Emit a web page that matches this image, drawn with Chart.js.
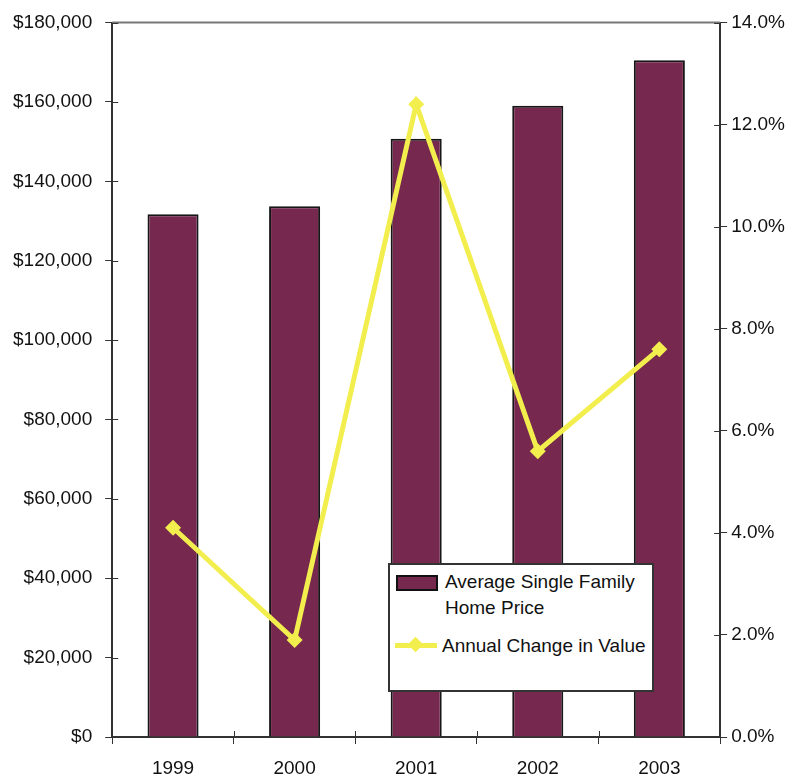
<!DOCTYPE html>
<html>
<head>
<meta charset="utf-8">
<script src="https://cdn.jsdelivr.net/npm/chart.js@4/dist/chart.umd.min.js"></script>
<style>
  html, body { margin: 0; padding: 0; background: #fff; }
  #wrap { position: relative; width: 792px; height: 784px; }
  #legend {
    position: absolute; left: 388px; top: 563px; width: 266px; height: 129px;
    background: #fff; border: 2px solid #333; box-sizing: border-box;
    font-family: "Liberation Sans", Arial, sans-serif; font-size: 19px; color: #111;
  }
  .row { position: absolute; left: 0; display: flex; align-items: flex-start; }
  .swatch-bar { width: 38px; height: 12px; background: #77284f; border: 2px solid #111; margin: 6px 7px 0 6px; }
  .swatch-line { position: relative; width: 42px; height: 22px; margin: 0 5px 0 5px; }
  .swatch-line .seg { position: absolute; left: 0; right: 0; top: 8px; height: 5px; background: #f2ee4e; }
  .swatch-line .dot { position: absolute; left: 15px; top: 4px; width: 11px; height: 11px; background: #f2ee4e; transform: rotate(45deg); }
  .txt { line-height: 26px; }
</style>
</head>
<body>
<div id="wrap">
  <canvas id="homeChart" width="792" height="784"></canvas>
  <div id="legend">
    <div class="row" style="top:4px"><div class="swatch-bar"></div><div class="txt">Average Single Family<br>Home Price</div></div>
    <div class="row" style="top:70px"><div class="swatch-line"><div class="seg"></div><div class="dot"></div></div><div class="txt" style="line-height:22px">Annual Change in Value</div></div>
  </div>
</div>
<script>
// -------------------------------
// Data
// -------------------------------
const years = ['1999', '2000', '2001', '2002', '2003'];
const avgPrice = [131700, 133700, 150700, 159000, 170500];
const annualChange = [4.1, 1.9, 12.4, 5.6, 7.6];

const priceTicks = [0, 20000, 40000, 60000, 80000, 100000, 120000, 140000, 160000, 180000];
const changeTicks = [0, 2, 4, 6, 8, 10, 12, 14];

const axisFont = { family: '"Liberation Sans", Arial, sans-serif', size: 19, lineHeight: 1 };

// top edge of the plot frame + inner half of the cross ticks
const frame = {
    id: 'frame',
    afterDraw(chart) {
        const { ctx, chartArea, scales } = chart;
        const inner = 6;
        ctx.save();
        ctx.strokeStyle = '#777';
        ctx.lineWidth = 2;
        ctx.beginPath();
        ctx.moveTo(chartArea.left, chartArea.top);
        ctx.lineTo(chartArea.right, chartArea.top);
        ctx.stroke();

        ctx.strokeStyle = '#333';
        ctx.lineWidth = 1;
        ctx.beginPath();
        priceTicks.forEach(v => {
            const y = Math.round(scales.yPrice.getPixelForValue(v)) + 0.5;
            ctx.moveTo(chartArea.left, y);
            ctx.lineTo(chartArea.left + inner, y);
        });
        changeTicks.forEach(v => {
            const y = Math.round(scales.yPct.getPixelForValue(v)) + 0.5;
            ctx.moveTo(chartArea.right, y);
            ctx.lineTo(chartArea.right - inner, y);
        });
        for (let i = 0; i <= years.length; i++) {
            const x = Math.round(scales.x.getPixelForValue(i - 0.5)) + 0.5;
            ctx.moveTo(x, chartArea.bottom);
            ctx.lineTo(x, chartArea.bottom - inner);
        }
        ctx.stroke();
        ctx.restore();
    }
};

const ctx = document.getElementById('homeChart').getContext('2d');
new Chart(ctx, {
    type: 'bar',
    data: {
        labels: years,
        datasets: [
            {
                type: 'line',
                label: 'Annual Change in Value',
                data: annualChange,
                yAxisID: 'yPct',
                borderColor: '#f2ee4e',
                backgroundColor: '#f2ee4e',
                borderWidth: 5,
                pointStyle: 'rectRot',
                pointRadius: 8,
                pointBorderWidth: 0,
                tension: 0,
                order: 1
            },
            {
                label: 'Average Single Family Home Price',
                data: avgPrice,
                yAxisID: 'yPrice',
                backgroundColor: '#77284f',
                borderColor: '#161616',
                borderWidth: 2,
                barPercentage: 0.42,
                categoryPercentage: 1,
                order: 2
            }
        ]
    },
    options: {
        responsive: false,
        animation: false,
        layout: { padding: { left: 0, right: 3, top: 0, bottom: -9 } },
        plugins: {
            legend: { display: false },
            tooltip: { enabled: false }
        },
        scales: {
            x: {
                grid: { drawOnChartArea: false, tickLength: 7, color: '#333', offset: true },
                border: { color: '#333', width: 2 },
                ticks: { color: '#111', font: axisFont, padding: 15 }
            },
            yPrice: {
                position: 'left',
                min: 0, max: 180000,
                afterBuildTicks: axis => { axis.ticks = priceTicks.map(v => ({ value: v })); },
                grid: { drawOnChartArea: false, tickLength: 7, color: '#333' },
                border: { color: '#333', width: 2 },
                ticks: {
                    color: '#111', font: axisFont, padding: 13,
                    callback: v => '$' + v.toLocaleString('en-US')
                }
            },
            yPct: {
                position: 'right',
                min: 0, max: 14,
                afterBuildTicks: axis => { axis.ticks = changeTicks.map(v => ({ value: v })); },
                grid: { drawOnChartArea: false, tickLength: 7, color: '#333' },
                border: { color: '#333', width: 2 },
                ticks: {
                    color: '#111', font: axisFont, padding: 4,
                    callback: v => v.toFixed(1) + '%'
                }
            }
        }
    },
    plugins: [frame]
});
</script>
</body>
</html>
